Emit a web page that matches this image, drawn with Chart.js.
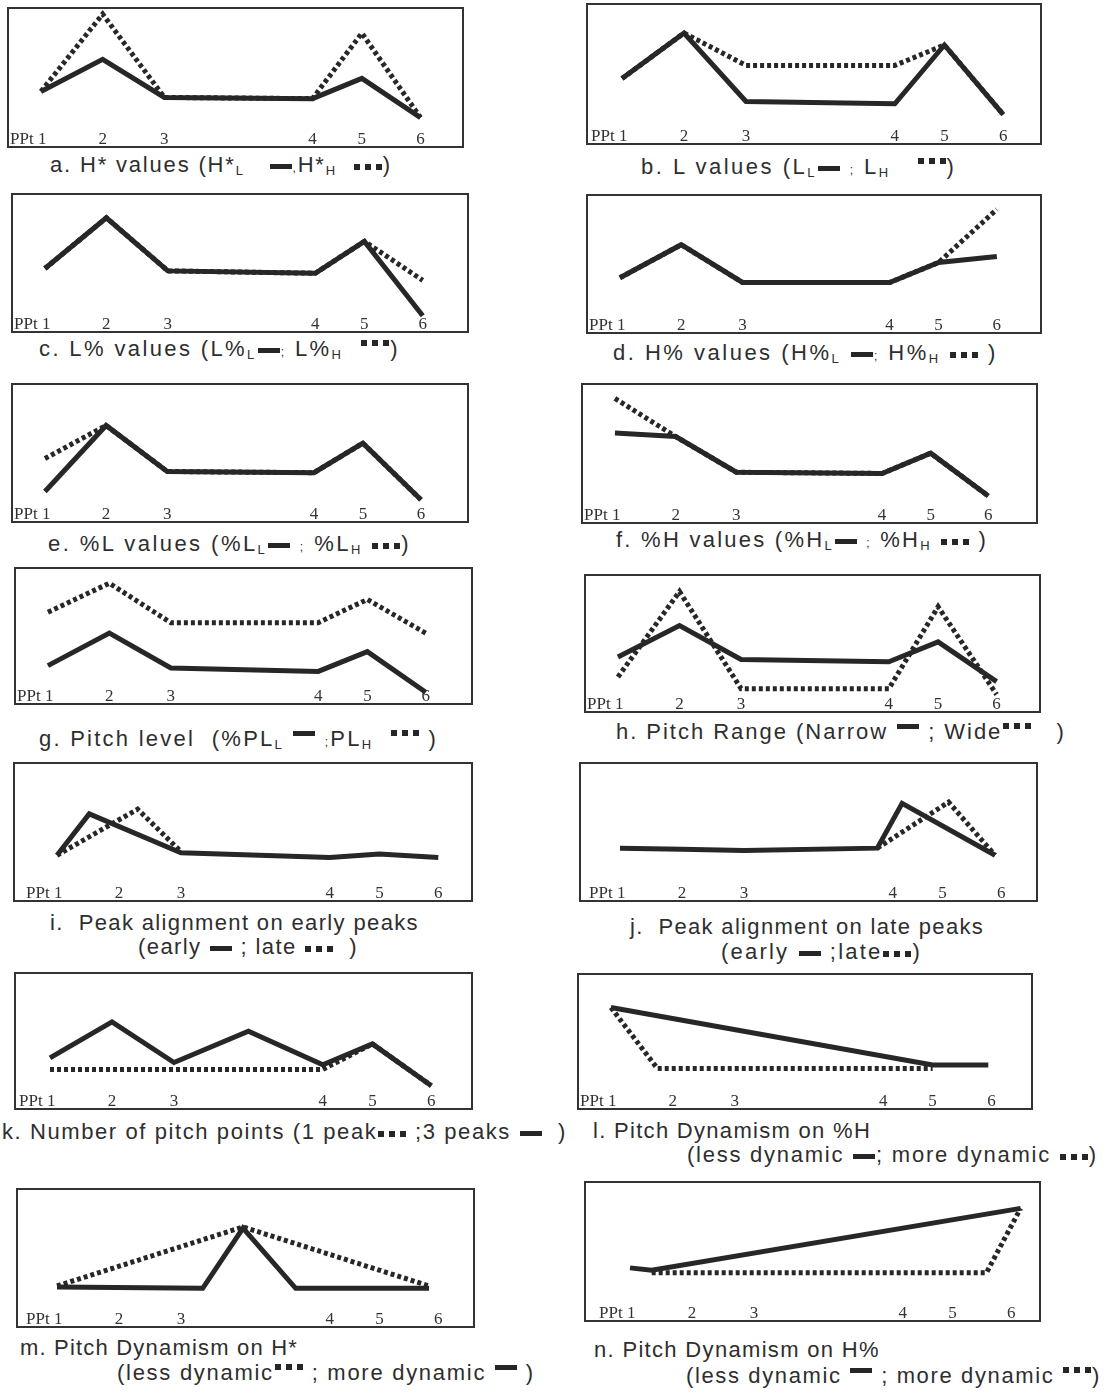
<!DOCTYPE html>
<html>
<head>
<meta charset="utf-8">
<script src="https://cdn.jsdelivr.net/npm/chart.js@4.4.1/dist/chart.umd.min.js"></script>
<style>
  html, body { margin:0; padding:0; background:#fff; }
  body { width:1108px; height:1394px; position:relative; overflow:hidden; }
  canvas.panel { position:absolute; }
  .cap { position:absolute; white-space:pre; font-family:"Liberation Sans", Arial, sans-serif;
         font-size:22px; line-height:26px; color:#2e2e2e; }
  .cap sub { font-size:13px; vertical-align:-3px; line-height:0; }
  .cap small { font-size:12px; }
  .bar { display:inline-block; width:22px; height:5px; background:#262626; vertical-align:3px; margin:0 1px; }
  .dots { display:inline-block; width:28px; height:6px; vertical-align:2px; margin:0 1px;
          background:repeating-linear-gradient(90deg,#262626 0 6px,transparent 6px 11px); }
  .up { vertical-align:10px; }
</style>
</head>
<body>
<script>
// ---------- data ----------
// time positions of the six pitch points (PPt 1..6)
const pptX = [1, 2, 3, 5.4, 6.2, 7.15];
const tickLabels = ["PPt 1", "2", "3", "4", "5", "6"];

// a. H* values
const aSolid  = [29, 56, 24, 23, 40, 7];
const aDotted = [29, 94, 24, 23, 78, 7];
// b. L values
const bSolid  = [37, 75, 18, 16, 65, 7];
const bDotted = [37, 75, 48, 48, 65, 7];
// c. L% values
const cSolid  = [36, 79, 34, 32, 59, -4];
const cDotted = [36, 79, 34, 32, 59, 26];
// d. H% values
const dSolid  = [29, 57, 25, 25, 42, 47];
const dDotted = [29, 57, 25, 25, 42, 87];
// e. %L values
const eSolid  = [8, 64, 25, 24, 49, 1];
const eDotted = [36, 64, 25, 24, 49, 1];
// f. %H values
const fSolid  = [58, 55, 25, 24, 41, 5];
const fDotted = [87, 55, 25, 24, 41, 5];
// g. Pitch level
const gSolid  = [15, 43, 13, 10, 27, -8];
const gDotted = [61, 86, 52, 52, 72, 43];
// h. Pitch range
const hSolid  = [29, 56, 27, 25, 42, 8];
const hDotted = [12, 85, 2, 2, 72, -3];
// i. Peak alignment on early peaks
const iSolidX  = [1, 1.52, 3, 5.4, 6.2, 7.15];
const iSolid   = [21, 56, 23, 19, 22, 19];
const iDottedX = [1, 2.3, 3];
const iDotted  = [21, 60, 24];
// j. Peak alignment on late peaks
const jSolidX  = [1, 2, 3, 5.15, 5.55, 7.05];
const jSolid   = [27, 26, 25, 27, 65, 21];
const jDottedX = [5.15, 6.3, 7.05];
const jDotted  = [27, 66, 21];
// k. Number of pitch points
const kSolidX  = [1, 2, 3, 4.2, 5.4, 6.2, 7.15];
const kSolid   = [26, 57, 22, 49, 20, 38, 2];
const kDottedX = [1, 5.4, 6.2, 7.15];
const kDotted  = [16, 16, 38, 2];
// l. Pitch dynamism on %H
const lSolidX  = [1, 6.2, 7.1];
const lSolid   = [70, 20, 20];
const lDottedX = [1, 1.75, 6.2];
const lDotted  = [70, 17, 17];
// m. Pitch dynamism on H*
const mSolidX  = [1, 3.35, 4.0, 4.85, 7.0];
const mSolid   = [16, 15, 66, 15, 15];
const mDottedX = [1, 4.0, 7.0];
const mDotted  = [17, 67, 17];
// n. Pitch dynamism on H%
const nSolidX  = [1, 1.35, 7.3];
const nSolid   = [27, 25, 77];
const nDottedX = [1.35, 6.75, 7.3];
const nDotted  = [23, 23, 77];

// ---------- layout ----------
const UNIT = 62;  // px per time unit
const panels = [
  {left:7,   top:7,    w:457, h:141, off:32, sx:pptX, sy:aSolid, dx:pptX, dy:aDotted},
  {left:586, top:3,    w:456, h:142, off:36, sx:pptX, sy:bSolid, dx:pptX, dy:bDotted},
  {left:11,  top:193,  w:458, h:140, off:30, sx:pptX, sy:cSolid, dx:pptX, dy:cDotted},
  {left:586, top:194,  w:456, h:140, off:29, sx:pptX, sy:dSolid, dx:pptX, dy:dDotted},
  {left:11,  top:383,  w:458, h:140, off:28, sx:pptX, sy:eSolid, dx:pptX, dy:eDotted},
  {left:581, top:383,  w:457, h:141, off:25, sx:pptX, sy:fSolid, dx:pptX, dy:fDotted},
  {left:14,  top:567,  w:459, h:138, off:30, sx:pptX, sy:gSolid, dx:pptX, dy:gDotted},
  {left:584, top:574,  w:457, h:139, off:31, sx:pptX, sy:hSolid, dx:pptX, dy:hDotted},
  {left:13,  top:762,  w:460, h:140, off:44, sx:iSolidX, sy:iSolid, dx:iDottedX, dy:iDotted},
  {left:579, top:762,  w:459, h:140, off:41, sx:jSolidX, sy:jSolid, dx:jDottedX, dy:jDotted},
  {left:14,  top:972,  w:459, h:138, off:36, sx:kSolidX, sy:kSolid, dx:kDottedX, dy:kDotted},
  {left:577, top:973,  w:456, h:137, off:33, sx:lSolidX, sy:lSolid, dx:lDottedX, dy:lDotted},
  {left:16,  top:1188, w:459, h:140, off:41, sx:mSolidX, sy:mSolid, dx:mDottedX, dy:mDotted},
  {left:584, top:1181, w:457, h:141, off:46, sx:nSolidX, sy:nSolid, dx:nDottedX, dy:nDotted}
];

const BAR = '<span class="bar"></span>';
const BARU = '<span class="bar up"></span>';
const DOTS = '<span class="dots"></span>';
const DOTSU = '<span class="dots up"></span>';
// x = left edge, r = right edge, b = baseline
const captions = [
  {x:50,  r:392,  b:172,  html:'a. H* values (H*<sub>L</sub>   ' + BAR + '<small>,</small>H*<sub>H</sub>  ' + DOTS + ')'},
  {x:641, r:960,  b:174,  html:'b. L values (L<sub>L</sub>' + BAR + ' <small>;</small> L<sub>H</sub>   ' + DOTSU + ')'},
  {x:39,  r:400,  b:356,  html:'c. L% values (L%<sub>L</sub>' + BAR + '<small>;</small> L%<sub>H</sub>  ' + DOTSU + ')'},
  {x:613, r:999,  b:360,  html:'d. H% values (H%<sub>L</sub> ' + BAR + '<small>;</small> H%<sub>H</sub> ' + DOTS + ' )'},
  {x:48,  r:411,  b:551,  html:'e. %L values (%L<sub>L</sub>' + BAR + ' <small>;</small> %L<sub>H</sub> ' + DOTS + ')'},
  {x:616, r:988,  b:547,  html:'f. %H values (%H<sub>L</sub>' + BAR + ' <small>;</small> %H<sub>H</sub> ' + DOTS + ' )'},
  {x:39,  r:438,  b:746,  html:'g. Pitch level  (%PL<sub>L</sub> ' + BARU + ' <small>;</small>PL<sub>H</sub>  ' + DOTSU + ' )'},
  {x:616, r:1066, b:739,  html:'h. Pitch Range (Narrow ' + BARU + ' ; Wide' + DOTSU + '   )'},
  {x:50,  r:419,  b:930,  html:'i.  Peak alignment on early peaks'},
  {x:138, r:358,  b:954,  html:'(early ' + BAR + ' ; late ' + DOTS + '  )'},
  {x:630, r:984,  b:934,  html:'j.  Peak alignment on late peaks'},
  {x:721, r:922,  b:959,  html:'(early ' + BAR + ' ;late' + DOTS + ')'},
  {x:2,   r:567,  b:1139, html:'k. Number of pitch points (1 peak' + DOTS + ' ;3 peaks ' + BAR + '  )'},
  {x:593, r:871,  b:1138, html:'l. Pitch Dynamism on %H'},
  {x:687, r:1098, b:1162, html:'(less dynamic ' + BAR + '; more dynamic ' + DOTS + ')'},
  {x:20,  r:298,  b:1355, html:'m. Pitch Dynamism on H*'},
  {x:117, r:535,  b:1380, html:'(less dynamic' + DOTSU + ' ; more dynamic ' + BARU + ' )'},
  {x:594, r:880,  b:1357, html:'n. Pitch Dynamism on H%'},
  {x:686, r:1101, b:1383, html:'(less dynamic ' + BARU + ' ; more dynamic ' + DOTSU + ')'}
];

const boxPlugin = {
  id: 'box',
  afterDraw(chart) {
    const c = chart.ctx;
    c.save();
    c.strokeStyle = '#333';
    c.lineWidth = 2;
    c.strokeRect(1, 1, chart.width - 2, chart.height - 2);
    c.restore();
  }
};

function pts(xs, ys) { return ys.map((y, i) => ({x: xs[i], y: y})); }

panels.forEach(p => {
  const cv = document.createElement('canvas');
  cv.className = 'panel';
  cv.width = p.w; cv.height = p.h;
  cv.style.left = p.left + 'px'; cv.style.top = p.top + 'px';
  cv.style.width = p.w + 'px'; cv.style.height = p.h + 'px';
  document.body.appendChild(cv);
  const xMin = 1 - p.off / UNIT;
  const xMax = xMin + p.w / UNIT;
  new Chart(cv, {
    type: 'scatter',
    data: {
      datasets: [
        {data: pts(p.sx, p.sy), showLine: true, borderColor: '#272727', borderWidth: 5,
         pointRadius: 0, clip: false, order: 0},
        {data: pts(p.dx, p.dy), showLine: true, borderColor: '#272727', borderWidth: 5,
         borderDash: [4, 3], pointRadius: 0, clip: false, order: 1}
      ]
    },
    options: {
      responsive: false, animation: false, events: [],
      layout: {padding: 0},
      plugins: {legend: {display: false}, tooltip: {enabled: false}},
      scales: {
        x: {
          type: 'linear', min: xMin, max: xMax,
          grid: {display: false, drawTicks: false}, border: {display: false},
          afterBuildTicks: s => { s.ticks = pptX.map(v => ({value: v})); },
          afterFit: s => { s.height = 22; },
          ticks: {
            autoSkip: false, maxRotation: 0, padding: 3, color: '#333',
            font: {family: '"Liberation Serif", "Times New Roman", serif', size: 17},
            callback: (v, i) => i === 0 ? tickLabels[0] + '\u2002\u2002\u2002' : tickLabels[i]
          }
        },
        y: {display: false, min: 0, max: 100}
      }
    },
    plugins: [boxPlugin]
  });
});

captions.forEach(c => {
  const d = document.createElement('div');
  d.className = 'cap';
  d.style.left = c.x + 'px';
  d.innerHTML = c.html;
  document.body.appendChild(d);
  // fit the caption to the reference width by letter spacing
  const w0 = d.getBoundingClientRect().width;
  const n = d.textContent.length;
  const ls = (c.r - c.x - w0) / n;
  d.style.letterSpacing = Math.max(-0.5, Math.min(2.5, ls)).toFixed(2) + 'px';
  // place baseline: line-height 26px, 22px Arial -> baseline ~ top + 20.3
  d.style.top = (c.b - 20.3) + 'px';
});
</script>
</body>
</html>
